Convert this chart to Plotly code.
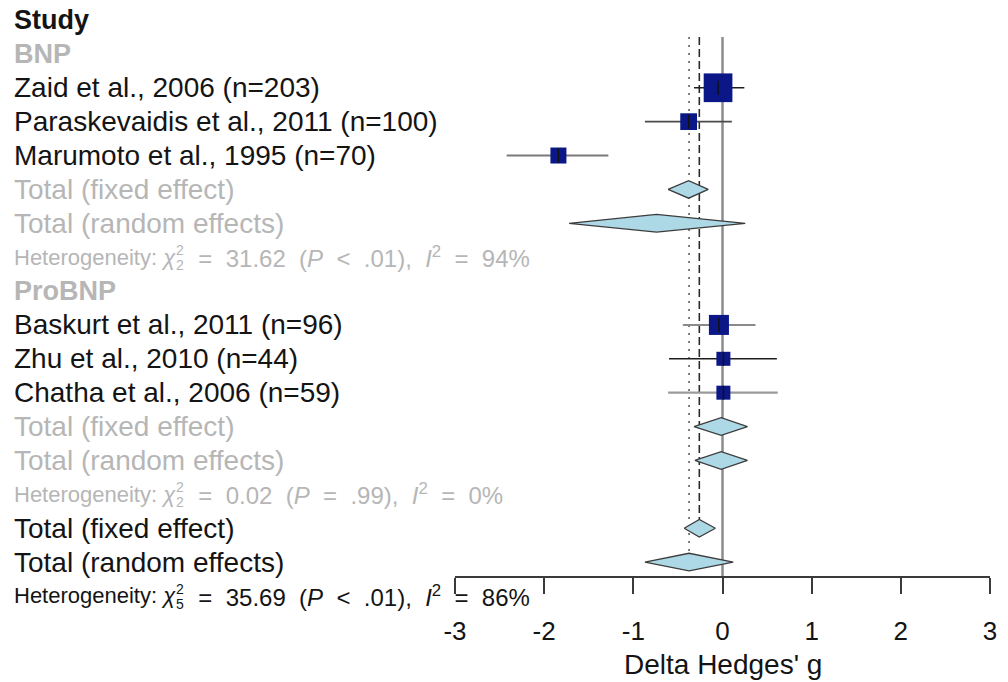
import plotly.graph_objects as go

# ---------------- data ----------------
study_labels = [
    "Zaid et al., 2006 (n=203)",
    "Paraskevaidis et al., 2011 (n=100)",
    "Marumoto et al., 1995 (n=70)",
    "Baskurt et al., 2011 (n=96)",
    "Zhu et al., 2010 (n=44)",
    "Chatha et al., 2006 (n=59)",
]
study_group = ["BNP", "BNP", "BNP", "ProBNP", "ProBNP", "ProBNP"]
study_g = [-0.05, -0.38, -1.84, -0.04, 0.01, 0.01]
study_lo = [-0.32, -0.87, -2.42, -0.445, -0.60, -0.61]
study_hi = [0.245, 0.105, -1.28, 0.37, 0.61, 0.62]
study_weight = [38.3, 13.0, 11.9, 18.6, 9.1, 9.1]

groups = ["BNP", "ProBNP"]
group_fixed_g = [-0.38, -0.015]
group_fixed_lo = [-0.61, -0.32]
group_fixed_hi = [-0.16, 0.28]
group_random_g = [-0.74, -0.015]
group_random_lo = [-1.72, -0.31]
group_random_hi = [0.255, 0.28]
group_het_chi2 = ["31.62", "0.02"]
group_het_df = ["2", "2"]
group_het_p = ["< .01", "= .99"]
group_het_i2 = ["94%", "0%"]

overall_fixed = [-0.26, -0.43, -0.08]     # estimate, lower, upper
overall_random = [-0.375, -0.87, 0.12]
overall_het = ["35.69", "5", "< .01", "86%"]  # chi2, df, P, I2

x_ticks = [-3, -2, -1, 0, 1, 2, 3]
x_title = "Delta Hedges' g"
header = "Study"
fixed_label = "Total (fixed effect)"
random_label = "Total (random effects)"

# ---------------- layout constants ----------------
W, H = 1008, 682
FONT = "Liberation Sans, Arial, sans-serif"
ROW0_PX, ROW_PX = 20.0, 33.88
AXIS_PX = 577
LEFT_PX = 12
GRAY_TXT = "#b6b6b6"
BLACK_TXT = "#141414"
SQUARE_COL = "#0b1687"
DIAMOND_FILL = "#add8e6"
DIAMOND_LINE = "#3c3c3c"
HALF_H = 0.26  # diamond half-height in rows
NB = "\u00a0"


def px_to_row(p):
    return (p - ROW0_PX) / ROW_PX


fig = go.Figure()


def label(row, text, color, size=28, bold=False):
    if bold:
        text = "<b>" + text + "</b>"
    fig.add_annotation(xref="paper", x=LEFT_PX / W, yref="y", y=row, text=text,
                       xanchor="left", yanchor="middle", showarrow=False,
                       font=dict(family=FONT, size=size, color=color))


def het_label(row, chi2, df, p, i2, color):
    base = dict(xref="paper", x=LEFT_PX / W, yref="y", y=row, showarrow=False,
                xanchor="left", yanchor="middle")
    fig.add_annotation(text="Heterogeneity: <i>χ</i>", font=dict(family=FONT, size=22, color=color), **base)
    fig.add_annotation(text="2", xshift=162, yshift=7, font=dict(family=FONT, size=14, color=color), **base)
    fig.add_annotation(text=df, xshift=162, yshift=-8, font=dict(family=FONT, size=14, color=color), **base)
    sp = NB * 2
    rest = (sp + "=" + sp + chi2 + sp + "(<i>P</i>" + sp + p.replace(" ", sp) + ")," + sp
            + "<i>I</i><sup>2</sup>" + sp + "=" + sp + i2)
    fig.add_annotation(text=rest, xshift=171, font=dict(family=FONT, size=24, color=color), **base)


def diamond(row, g, lo, hi):
    fig.add_trace(go.Scatter(x=[lo, g, hi, g, lo], y=[row, row - HALF_H, row, row + HALF_H, row],
                             mode="lines", fill="toself", fillcolor=DIAMOND_FILL,
                             line=dict(color=DIAMOND_LINE, width=1.3), hoverinfo="skip"))


# ---------------- text rows ----------------
row = 0
label(row, header, BLACK_TXT, size=27, bold=True)
row += 1
study_rows = []
diamond_rows = []
for gi, gname in enumerate(groups):
    label(row, gname, GRAY_TXT, size=27, bold=True)
    row += 1
    for si, lab in enumerate(study_labels):
        if study_group[si] != gname:
            continue
        label(row, lab, BLACK_TXT)
        study_rows.append((si, row))
        row += 1
    label(row, fixed_label, GRAY_TXT)
    diamond_rows.append((row, group_fixed_g[gi], group_fixed_lo[gi], group_fixed_hi[gi]))
    row += 1
    label(row, random_label, GRAY_TXT)
    diamond_rows.append((row, group_random_g[gi], group_random_lo[gi], group_random_hi[gi]))
    row += 1
    het_label(row, group_het_chi2[gi], group_het_df[gi], group_het_p[gi], group_het_i2[gi], GRAY_TXT)
    row += 1

row_fixed = row
label(row, fixed_label, BLACK_TXT)
diamond_rows.append((row, *overall_fixed))
row += 1
row_random = row
label(row, random_label, BLACK_TXT)
diamond_rows.append((row, *overall_random))
row += 1
het_label(row, overall_het[0], overall_het[1], overall_het[2], overall_het[3], BLACK_TXT)

top_row = px_to_row(37)
axis_row = px_to_row(AXIS_PX)

# ---------------- reference lines ----------------
fig.add_trace(go.Scatter(x=[0, 0], y=[top_row, axis_row], mode="lines",
                         line=dict(color="#8c8c8c", width=2.5), hoverinfo="skip"))
fig.add_trace(go.Scatter(x=[overall_fixed[0]] * 2, y=[top_row, row_fixed - HALF_H], mode="lines",
                         line=dict(color="#2a2a2a", width=1.6, dash="8px,4px"), hoverinfo="skip"))
fig.add_trace(go.Scatter(x=[overall_random[0]] * 2, y=[top_row, row_random - HALF_H], mode="lines",
                         line=dict(color="#606060", width=1.6, dash="2px,6px"), hoverinfo="skip"))

# ---------------- diamonds ----------------
for d in diamond_rows:
    diamond(*d)

# ---------------- studies ----------------
ci_colors = ["#1e1e1e", "#4a4a4a", "#7a7a7a", "#8a8a8a", "#1e1e1e", "#9a9a9a"]
ci_widths = [1.6, 1.8, 2.0, 2.0, 1.6, 2.2]
sq_x, sq_y, sq_s = [], [], []
for si, r in study_rows:
    fig.add_trace(go.Scatter(x=[study_lo[si], study_hi[si]], y=[r, r], mode="lines",
                             line=dict(color=ci_colors[si], width=ci_widths[si]), hoverinfo="skip"))
    sq_x.append(study_g[si])
    sq_y.append(r)
    sq_s.append(4.64 * study_weight[si] ** 0.5)

fig.add_trace(go.Scatter(x=sq_x, y=sq_y, mode="markers",
                         marker=dict(symbol="square", size=sq_s, color=SQUARE_COL, opacity=1,
                                     line=dict(width=0)), hoverinfo="skip"))
fig.add_trace(go.Scatter(x=sq_x, y=sq_y, mode="markers",
                         marker=dict(symbol="line-ns-open", size=10, color="#111111", opacity=1,
                                     line=dict(width=1.5, color="#111111")), hoverinfo="skip"))

fig.add_annotation(xref="paper", x=722.5 / W, yref="paper", y=(H - 664) / H, text=x_title,
                   showarrow=False, xanchor="center", yanchor="middle",
                   font=dict(family=FONT, size=28, color=BLACK_TXT))

fig.update_layout(
    template="none",
    width=W, height=H, margin=dict(l=0, r=0, t=0, b=0, pad=0, autoexpand=False),
    paper_bgcolor="white", plot_bgcolor="white", showlegend=False,
    xaxis=dict(domain=[455 / W, 990 / W], range=[-3, 3], anchor="free", position=(H - AXIS_PX) / H,
               automargin=False,
               showline=True, linecolor="#3a3a3a", linewidth=2, ticks="outside", ticklen=16,
               tickwidth=2, tickcolor="#3a3a3a", tickvals=x_ticks, ticktext=[str(t) for t in x_ticks],
               ticklabelstandoff=15,
               tickfont=dict(family=FONT, size=26, color=BLACK_TXT), showgrid=False, zeroline=False,
               fixedrange=True),
    yaxis=dict(domain=[0, 1], range=[px_to_row(H), px_to_row(0)], visible=False, automargin=False,
               fixedrange=True, showgrid=False, zeroline=False),
)

fig.write_html("out.html", config={"displayModeBar": False},
               post_script="document.body.style.margin='0px';document.body.style.overflow='hidden';")
